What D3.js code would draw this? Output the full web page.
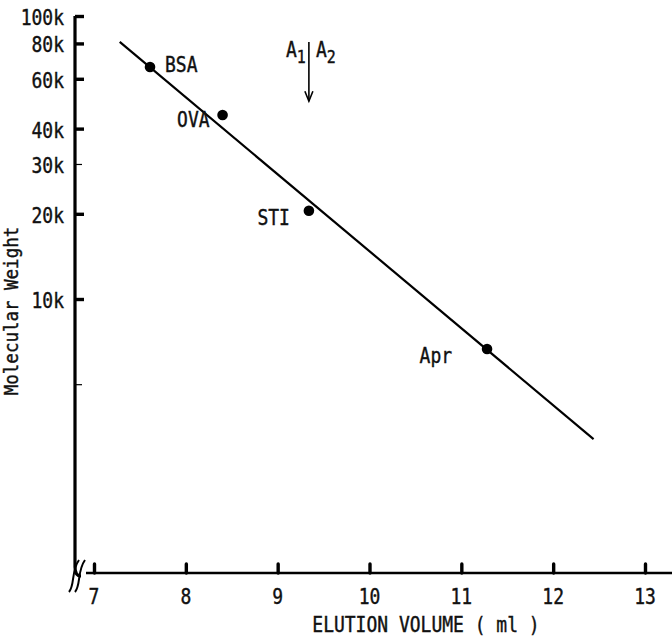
<!DOCTYPE html>
<html><head><meta charset="utf-8">
<script src="https://cdn.jsdelivr.net/npm/d3@7"></script>
<style>
html,body{margin:0;padding:0;background:#fff;}
text{font-family:"DejaVu Sans Mono","Liberation Mono",monospace;fill:#111;stroke:#111;stroke-width:0.35px;}
</style></head>
<body>
<svg id="chart" width="672" height="637"></svg>
<script>
// ---- data ----
const proteins = ["BSA", "OVA", "STI", "Apr"];
const elutionVolume = [7.61, 8.40, 9.34, 11.28];
const molecularWeight = [66000, 44700, 20500, 6660];
const fitVolume = [7.28, 12.44];
const fitWeight = [81000, 3200];
const xTicks = [7, 8, 9, 10, 11, 12, 13];
const yTicks = [100000, 80000, 60000, 40000, 30000, 20000, 10000, 5000];
const yTickLabels = ["100k", "80k", "60k", "40k", "30k", "20k", "10k", ""];
const yMinorTicks = [30000, 5000];
const arrowVolume = 9.34;
const arrowWeights = [81000, 50000];

// ---- layout / style ----
const labelOffsets = {BSA:[15,5,"start"], OVA:[-13,12,"end"], STI:[-19,14,"end"], Apr:[-35,14,"end"]};
const stretch = 1.13;
const svg = d3.select("#chart");
const x = d3.scaleLinear().domain([7, 13]).range([94, 645]);
const y = d3.scaleLog().domain([1000, 100000]).range([582, 16]);
const axisX = 75, baseY = 573;

function label(g, px, py, str, size, anchor, rot) {
  return g.append("text")
    .attr("transform", `translate(${px},${py})${rot ? " rotate(" + rot + ")" : ""} scale(1,${stretch})`)
    .attr("text-anchor", anchor || "start")
    .attr("font-size", size)
    .text(str);
}

// y axis line with rounded corner
svg.append("path")
  .attr("d", `M${axisX},${y(100000)} V${baseY - 6} Q${axisX},${baseY + 3} ${axisX + 6},${baseY + 3}`)
  .attr("fill", "none").attr("stroke", "#000").attr("stroke-width", 3.2);
// break marks
[0, 6].forEach(o => {
  svg.append("path")
    .attr("d", `M${69 + o},${592} C${75 + o},${585} ${71 + o},${571} ${79 + o},${560}`)
    .attr("fill", "none").attr("stroke", "#000").attr("stroke-width", 2);
});
// x axis line
svg.append("line").attr("x1", 86).attr("x2", 672).attr("y1", baseY).attr("y2", baseY)
  .attr("stroke", "#000").attr("stroke-width", 2.6);

// y axis ticks
const yAxis = d3.axisRight(y).tickValues(yTicks).tickFormat("").tickSize(8).tickSizeOuter(0);
const gy = svg.append("g").attr("transform", `translate(${axisX},0)`).call(yAxis);
gy.select(".domain").remove();
gy.selectAll(".tick line")
  .attr("stroke", "#000")
  .attr("stroke-width", d => yMinorTicks.includes(d) ? 1.2 : 3.4)
  .attr("x2", d => yMinorTicks.includes(d) ? 7 : 9);
const gyl = svg.append("g");
yTicks.forEach((d, i) => {
  if (yTickLabels[i]) label(gyl, 64, y(d) + 9, yTickLabels[i], 18, "end");
});

// x axis ticks
const xAxis = d3.axisTop(x).tickValues(xTicks).tickFormat("").tickSize(9).tickSizeOuter(0);
const gx = svg.append("g").attr("transform", `translate(0,${baseY})`).call(xAxis);
gx.select(".domain").remove();
gx.selectAll(".tick line").attr("stroke", "#000").attr("stroke-width", 3.4).attr("stroke-linecap", "round");
const gxl = svg.append("g");
xTicks.forEach(d => label(gxl, x(d), 604, d, 18, "middle"));

// axis titles
label(svg, 426, 632, "ELUTION VOLUME ( ml )", 18, "middle");
label(svg, 18, 311, "Molecular Weight", 17.5, "middle", -90);

// fit line
const line = d3.line().x(d => x(d[0])).y(d => y(d[1]));
svg.append("path").datum(fitVolume.map((v, i) => [v, fitWeight[i]]))
  .attr("d", line).attr("fill", "none").attr("stroke", "#000").attr("stroke-width", 2.2);

// points
svg.append("g").selectAll("circle").data(proteins).join("circle")
  .attr("cx", (d, i) => x(elutionVolume[i])).attr("cy", (d, i) => y(molecularWeight[i]))
  .attr("r", 5.3).attr("fill", "#000");
const gpl = svg.append("g");
proteins.forEach((d, i) => {
  label(gpl, x(elutionVolume[i]) + labelOffsets[d][0], y(molecularWeight[i]) + labelOffsets[d][1],
        d, 18, labelOffsets[d][2]);
});

// A1 | A2 arrow
const ax = x(arrowVolume), ay0 = y(arrowWeights[0]), ay1 = y(arrowWeights[1]);
svg.append("line").attr("x1", ax).attr("x2", ax).attr("y1", ay0).attr("y2", ay1)
  .attr("stroke", "#000").attr("stroke-width", 1.6);
svg.append("path").attr("d", `M${ax - 4},${ay1 - 10} L${ax},${ay1} L${ax + 4},${ay1 - 10}`)
  .attr("fill", "none").attr("stroke", "#000").attr("stroke-width", 1.6);
const a1 = label(svg, ax - 3, ay0 + 15, "", 18, "end");
a1.append("tspan").text("A");
a1.append("tspan").attr("dy", 5).attr("font-size", 15).text("1");
const a2 = label(svg, ax + 7, ay0 + 15, "", 18, "start");
a2.append("tspan").text("A");
a2.append("tspan").attr("dy", 5).attr("font-size", 15).text("2");
</script>
</body></html>
